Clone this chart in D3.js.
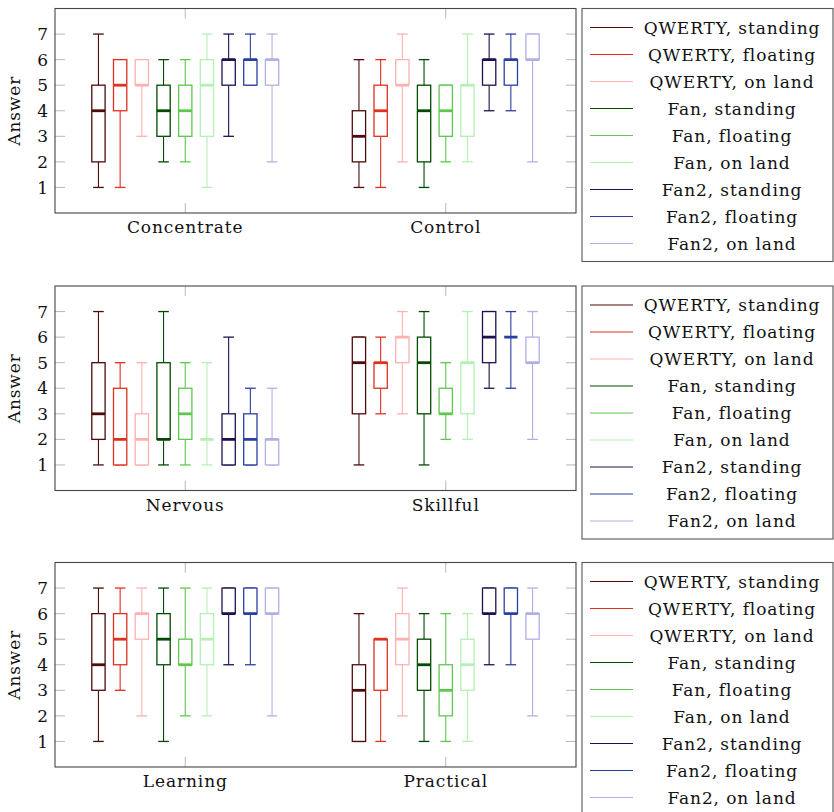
<!DOCTYPE html>
<html>
<head>
<meta charset="utf-8">
<script src="https://cdn.jsdelivr.net/npm/d3@7"></script>
<style>
  html, body { margin: 0; padding: 0; background: #fff; }
  svg { display: block; }
  text { font-family: "DejaVu Serif", serif; fill: #111; }
</style>
</head>
<body>
<svg id="chart" width="834" height="812"></svg>
<script>
// ---------------- DATA ----------------
const seriesNames = [
  "QWERTY, standing", "QWERTY, floating", "QWERTY, on land",
  "Fan, standing", "Fan, floating", "Fan, on land",
  "Fan2, standing", "Fan2, floating", "Fan2, on land"
];
const seriesColors = [
  "#4d0b0b", "#e0301e", "#ffb0b0",
  "#004a00", "#5cc84c", "#b4f0b4",
  "#201050", "#2a40a0", "#b0b0e6"
];
const yTicks = [1, 2, 3, 4, 5, 6, 7];
const yAxisLabel = "Answer";

const panel1Categories = ["Concentrate", "Control"];
const panel2Categories = ["Nervous", "Skillful"];
const panel3Categories = ["Learning", "Practical"];

// each entry: [min, q1, median, q3, max]
const concentrateStats = [
  [1,2,4,5,7],[1,4,5,6,6],[3,5,5,6,6],
  [2,3,4,5,6],[2,3,4,5,6],[1,3,5,6,7],
  [3,5,6,6,7],[5,5,6,6,7],[2,5,6,6,7]
];
const controlStats = [
  [1,2,3,4,6],[1,3,4,5,6],[2,5,5,6,7],
  [1,2,4,5,6],[2,3,4,5,5],[2,3,5,5,7],
  [4,5,6,6,7],[4,5,6,6,7],[2,6,6,7,7]
];
const nervousStats = [
  [1,2,3,5,7],[1,1,2,4,5],[1,1,2,3,5],
  [1,2,2,5,7],[1,2,3,4,5],[1,2,2,2,5],
  [1,1,2,3,6],[1,1,2,3,4],[1,1,2,2,4]
];
const skillfulStats = [
  [1,3,5,6,6],[3,4,5,5,6],[3,5,6,6,7],
  [1,3,5,6,7],[2,3,3,4,5],[2,3,5,5,7],
  [4,5,6,7,7],[4,6,6,6,7],[2,5,5,6,7]
];
const learningStats = [
  [1,3,4,6,7],[3,4,5,6,7],[2,5,6,6,7],
  [1,4,5,6,7],[2,4,4,5,7],[2,4,5,6,7],
  [4,6,6,7,7],[4,6,6,7,7],[2,6,6,7,7]
];
const practicalStats = [
  [1,1,3,4,6],[1,3,5,5,5],[2,4,5,6,7],
  [1,3,4,5,6],[1,2,3,4,6],[1,3,4,5,6],
  [4,6,6,7,7],[4,6,6,7,7],[2,5,6,6,7]
];

const panels = [
  { categories: panel1Categories, stats: [concentrateStats, controlStats] },
  { categories: panel2Categories, stats: [nervousStats, skillfulStats] },
  { categories: panel3Categories, stats: [learningStats, practicalStats] }
];

// ---------------- LAYOUT ----------------
const svg = d3.select("#chart");
const plotLeft = 55, plotRight = 576, plotH = 204.5;
const panelTops = [8.5, 286, 562.5];
const legendX = 582, legendW = 251, legendH = 253;
const FONT = 17;
const LS = 0.9;
const boxW = 13.3;

panels.forEach((p, pi) => {
  const top = panelTops[pi];
  const g = svg.append("g");

  const x = d3.scaleBand().domain(p.categories).range([plotLeft, plotRight]).padding(0);
  const inner = d3.scalePoint().domain(d3.range(seriesNames.length)).range([-86.8, 86.8]);
  const y = d3.scaleLinear().domain([0, 8]).range([top + plotH, top]);

  // tick marks (inside)
  const tickCol = "#b8b8b8";
  yTicks.forEach(t => {
    g.append("line").attr("x1", plotLeft).attr("x2", plotLeft + 10)
      .attr("y1", y(t)).attr("y2", y(t)).attr("stroke", tickCol).attr("stroke-width", 1);
    g.append("line").attr("x1", plotRight - 10).attr("x2", plotRight)
      .attr("y1", y(t)).attr("y2", y(t)).attr("stroke", tickCol).attr("stroke-width", 1);
    g.append("text").attr("x", plotLeft - 7).attr("y", y(t)).attr("dy", "0.36em")
      .attr("text-anchor", "end").attr("font-size", FONT).text(t);
  });
  p.categories.forEach(c => {
    const cx = x(c) + x.bandwidth() / 2;
    g.append("line").attr("x1", cx).attr("x2", cx).attr("y1", top).attr("y2", top + 10)
      .attr("stroke", tickCol);
    g.append("line").attr("x1", cx).attr("x2", cx).attr("y1", top + plotH - 10).attr("y2", top + plotH)
      .attr("stroke", tickCol);
    g.append("text").attr("x", cx).attr("y", top + plotH + 20)
      .attr("text-anchor", "middle").attr("font-size", FONT).attr("letter-spacing", LS).text(c);
  });

  // axis label
  g.append("text")
    .attr("transform", `translate(${20},${top + plotH / 2}) rotate(-90)`)
    .attr("text-anchor", "middle").attr("font-size", FONT).attr("letter-spacing", LS).text(yAxisLabel);

  // boxes
  p.categories.forEach((c, ci) => {
    const cx = x(c) + x.bandwidth() / 2;
    p.stats[ci].forEach((s, si) => {
      const [mn, q1, md, q3, mx] = s;
      const col = seriesColors[si];
      const bx = cx + inner(si);
      const bg = g.append("g");
      // whiskers
      bg.append("line").attr("x1", bx).attr("x2", bx).attr("y1", y(q3)).attr("y2", y(mx))
        .attr("stroke", col).attr("stroke-width", 1.1);
      bg.append("line").attr("x1", bx).attr("x2", bx).attr("y1", y(q1)).attr("y2", y(mn))
        .attr("stroke", col).attr("stroke-width", 1.1);
      // caps
      [mn, mx].forEach(v => {
        bg.append("line").attr("x1", bx - boxW * 0.4).attr("x2", bx + boxW * 0.4)
          .attr("y1", y(v)).attr("y2", y(v)).attr("stroke", col).attr("stroke-width", 1.3);
      });
      // box
      bg.append("rect").attr("x", bx - boxW / 2).attr("y", y(q3))
        .attr("width", boxW).attr("height", Math.max(0, y(q1) - y(q3)))
        .attr("fill", "#fff").attr("stroke", col).attr("stroke-width", 1.3);
      // median
      bg.append("line").attr("x1", bx - boxW / 2).attr("x2", bx + boxW / 2)
        .attr("y1", y(md)).attr("y2", y(md)).attr("stroke", col).attr("stroke-width", 2.8);
    });
  });

  // frame
  g.append("rect").attr("x", plotLeft).attr("y", top).attr("width", plotRight - plotLeft)
    .attr("height", plotH).attr("fill", "none").attr("stroke", "#444").attr("stroke-width", 1.1);

  // legend
  const lg = g.append("g");
  lg.append("rect").attr("x", legendX).attr("y", top).attr("width", legendW).attr("height", legendH)
    .attr("fill", "#fff").attr("stroke", "#555").attr("stroke-width", 1.1);
  seriesNames.forEach((name, i) => {
    const ry = top + 19 + 27 * i;
    lg.append("line").attr("x1", legendX + 8).attr("x2", legendX + 51)
      .attr("y1", ry).attr("y2", ry).attr("stroke", seriesColors[i]).attr("stroke-width", 1.2);
    lg.append("text").attr("x", 732).attr("y", ry).attr("dy", "0.36em")
      .attr("text-anchor", "middle").attr("font-size", FONT).attr("letter-spacing", LS).text(name);
  });
});
</script>
</body>
</html>
